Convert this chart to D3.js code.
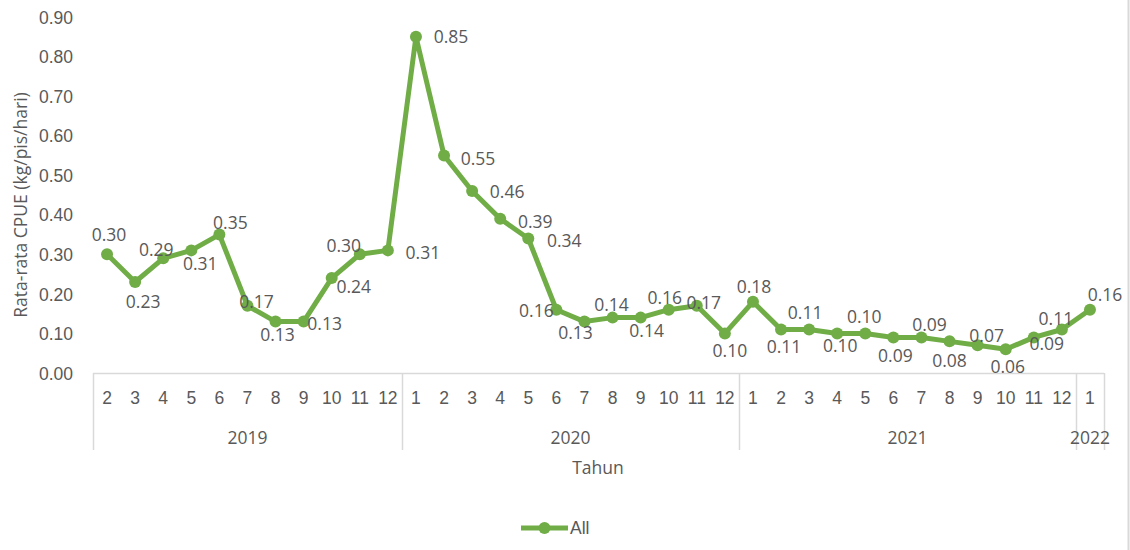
<!DOCTYPE html>
<html>
<head>
<meta charset="utf-8">
<script src="https://cdn.jsdelivr.net/npm/d3@7"></script>
<style>
  html, body { margin: 0; padding: 0; background: #fff; }
  svg { display: block; font-family: "Open Sans", "DejaVu Sans", sans-serif; }
  .tick text { fill: #595959; }
</style>
</head>
<body>
<svg id="chart" width="1130" height="550"></svg>
<script>
// Monthly average CPUE, Feb 2019 – Jan 2022
const years = ["2019", "2020", "2021", "2022"];
const monthsPerYear = [
  ["2","3","4","5","6","7","8","9","10","11","12"],
  ["1","2","3","4","5","6","7","8","9","10","11","12"],
  ["1","2","3","4","5","6","7","8","9","10","11","12"],
  ["1"]
];
const cpue = [
  0.30, 0.23, 0.29, 0.31, 0.35, 0.17, 0.13, 0.13, 0.24, 0.30, 0.31,
  0.85, 0.55, 0.46, 0.39, 0.34, 0.16, 0.13, 0.14, 0.14, 0.16, 0.17, 0.10,
  0.18, 0.11, 0.11, 0.10, 0.10, 0.09, 0.09, 0.08, 0.07, 0.06, 0.09, 0.11,
  0.16
];
const yTicks = [0, 0.1, 0.2, 0.3, 0.4, 0.5, 0.6, 0.7, 0.8, 0.9];
const seriesName = "All";

// Nudges for each data label (label centre relative to its marker)
const labelNudge = [
  [2,-19],[8,20],[-7,-8],[9,13],[11,-12],[9,-4],[2,13],[21,2],[22,9],[-16,-8],[35,2],
  [35,0],[34,3],[35,1],[35,3],[36,2],[-20,1],[-9,11],[-1,-13],[6,13],[-4,-12],[7,-3],[5,17],
  [1,-15],[3,17],[-4,-17],[3,12],[-1,-17],[2,18],[8,-13],[0,20],[9,-9],[2,18],[13,6],[-6,-11],
  [15,-15]
];

const green = "#70AD47";
const textCol = "#595959";
const lineCol = "#D9D9D9";
const fs = 17.5;

// Flatten into one category per month, remembering its year group
const cats = [];
monthsPerYear.forEach((ms, gi) => ms.forEach(m => cats.push({ key: years[gi] + "-" + m, month: m, group: gi })));
const data = cats.map((c, i) => ({ ...c, value: cpue[i], nudge: labelNudge[i] }));

const svg = d3.select("#chart");
const plotLeft = 93, plotRight = 1104, plotTop = 17, plotBase = 373;

const x = d3.scaleBand().domain(cats.map(c => c.key)).range([plotLeft, plotRight]).padding(0);
const y = d3.scaleLinear().domain([0, 0.9]).range([plotBase, plotTop]);

// Y axis: labels only
const yAxis = svg.append("g")
  .attr("transform", `translate(${plotLeft - 20},0)`)
  .call(d3.axisLeft(y).tickValues(yTicks).tickFormat(d3.format(".2f")).tickSize(0).tickPadding(0));
yAxis.select(".domain").remove();
yAxis.selectAll("text").attr("font-size", fs).attr("dy", "0.35em");

// Y axis title
svg.append("text")
  .attr("transform", `translate(21,205) rotate(-90)`)
  .attr("text-anchor", "middle")
  .attr("dy", "0.35em")
  .attr("fill", textCol)
  .attr("font-size", fs)
  .text("Rata-rata CPUE (kg/pis/hari)");

// X axis: month labels
const xAxis = svg.append("g")
  .attr("transform", `translate(0,${plotBase})`)
  .call(d3.axisBottom(x).tickFormat(k => cats.find(c => c.key === k).month).tickSize(0).tickPadding(0));
xAxis.select(".domain").remove();
xAxis.selectAll("text").attr("font-size", fs).attr("y", 25).attr("dy", "0.35em");

// Horizontal axis line and group separators
svg.append("line")
  .attr("x1", plotLeft).attr("x2", plotRight).attr("y1", plotBase + 0.5).attr("y2", plotBase + 0.5)
  .attr("stroke", lineCol).attr("stroke-width", 1.5);

const groupBounds = [];
let start = 0;
monthsPerYear.forEach((ms, gi) => {
  const first = cats[start].key, last = cats[start + ms.length - 1].key;
  groupBounds.push({ year: years[gi], x0: x(first), x1: x(last) + x.bandwidth() });
  start += ms.length;
});
const sepXs = [groupBounds[0].x0, ...groupBounds.map(g => g.x1)];
svg.selectAll("line.sep").data(sepXs).join("line")
  .attr("class", "sep")
  .attr("x1", d => Math.round(d) + 0.5).attr("x2", d => Math.round(d) + 0.5)
  .attr("y1", plotBase).attr("y2", 450)
  .attr("stroke", lineCol).attr("stroke-width", 1.5);

svg.selectAll("text.year").data(groupBounds).join("text")
  .attr("class", "year")
  .attr("x", d => (d.x0 + d.x1) / 2).attr("y", 438)
  .attr("dy", "0.35em")
  .attr("text-anchor", "middle")
  .attr("fill", textCol).attr("font-size", fs)
  .text(d => d.year);

// X axis title
svg.append("text")
  .attr("x", 598).attr("y", 468).attr("dy", "0.35em")
  .attr("text-anchor", "middle")
  .attr("fill", textCol).attr("font-size", fs)
  .text("Tahun");

// Series line and markers
const cx = d => x(d.key) + x.bandwidth() / 2;
svg.append("path")
  .datum(data)
  .attr("fill", "none")
  .attr("stroke", green)
  .attr("stroke-width", 5)
  .attr("stroke-linejoin", "round")
  .attr("d", d3.line().x(cx).y(d => y(d.value)));

svg.selectAll("circle.pt").data(data).join("circle")
  .attr("class", "pt")
  .attr("cx", cx).attr("cy", d => y(d.value))
  .attr("r", 6).attr("fill", green);

// Data labels
svg.selectAll("text.lbl").data(data).join("text")
  .attr("class", "lbl")
  .attr("x", d => cx(d) + d.nudge[0])
  .attr("y", d => y(d.value) + d.nudge[1])
  .attr("dy", "0.35em")
  .attr("text-anchor", "middle")
  .attr("fill", textCol).attr("font-size", fs)
  .text(d => d3.format(".2f")(d.value));

// Legend
const lg = svg.append("g").attr("transform", "translate(521,528)");
lg.append("line").attr("x1", 0).attr("x2", 47).attr("y1", 0).attr("y2", 0)
  .attr("stroke", green).attr("stroke-width", 5);
lg.append("circle").attr("cx", 23.5).attr("cy", 0).attr("r", 6).attr("fill", green);
lg.append("text").attr("x", 49).attr("y", 0).attr("dy", "0.35em")
  .attr("fill", textCol).attr("font-size", fs)
  .style("font-family", "'Liberation Sans', Arial, sans-serif")
  .text(seriesName);

// Frame edge on the right
svg.append("line")
  .attr("x1", 1128.5).attr("x2", 1128.5).attr("y1", 0).attr("y2", 550)
  .attr("stroke", lineCol).attr("stroke-width", 2);
</script>
</body>
</html>
